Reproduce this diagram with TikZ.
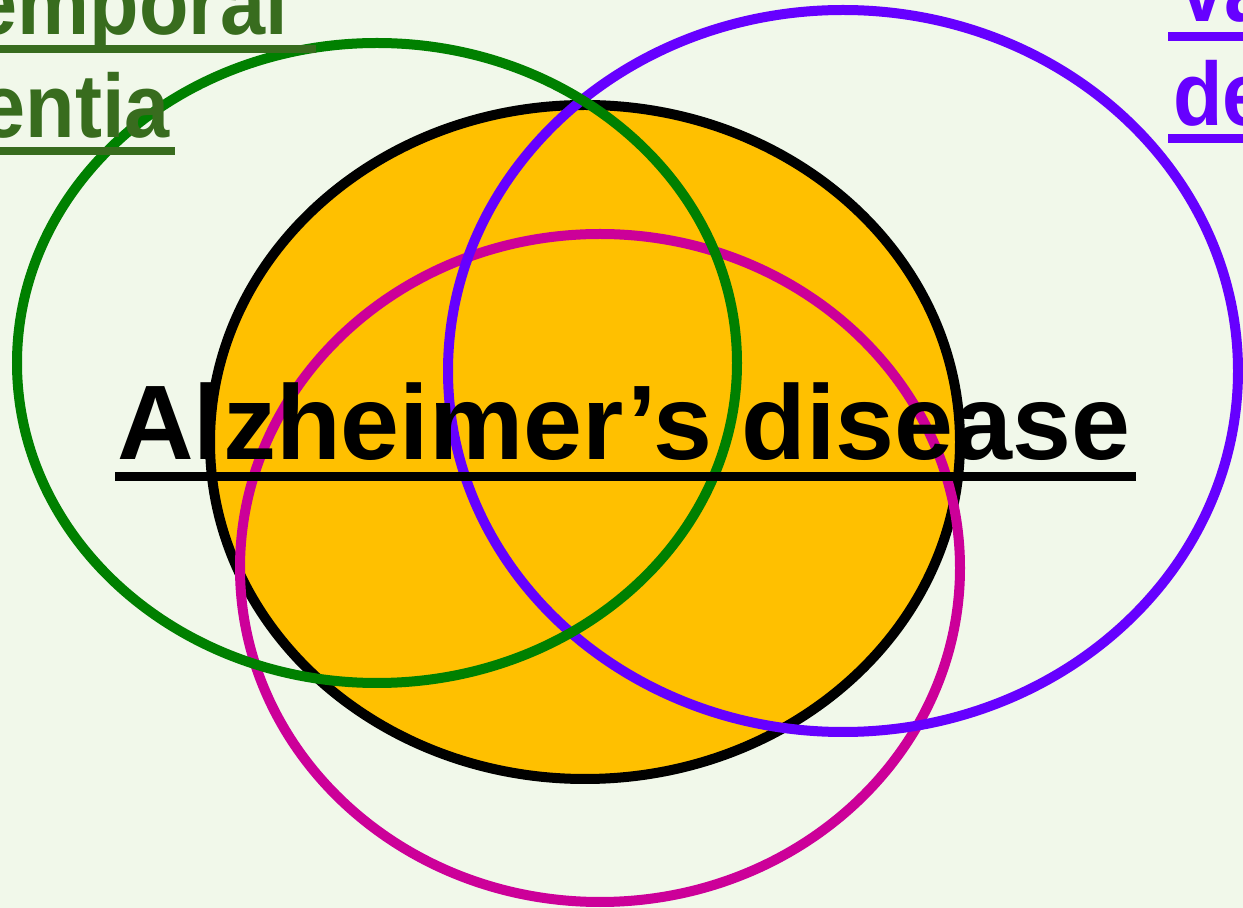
\documentclass[tikz,border=0pt]{standalone}
\usepackage{fontspec}
\setmainfont{Liberation Sans}
\newfontfamily\narrowsans{Liberation Sans}[FakeStretch=0.9]
\usetikzlibrary{calc}
\definecolor{wash}{HTML}{F1F8EA}
\definecolor{amber}{HTML}{FFC000}
\definecolor{leaf}{HTML}{008000}
\definecolor{moss}{HTML}{386C1E}
\definecolor{violet}{HTML}{6600FF}
\definecolor{berry}{HTML}{CC0099}

\begin{document}
\begin{tikzpicture}[x=0.5pt,y=-0.5pt,line width=5pt,
  lbl/.style={inner sep=0pt,font=\narrowsans\bfseries\fontsize{45}{50}\selectfont}]
\fill[wash] (0,0) rectangle (1243,908);
\clip (0,0) rectangle (1243,908);
% the four sets
\draw[fill=amber] (585,442) ellipse [x radius=187.5pt,y radius=168.5pt];
\draw[berry] (600,568) ellipse [x radius=180pt,y radius=167pt];
\draw[violet] (843,371) ellipse [x radius=197.5pt,y radius=180.5pt];
\draw[leaf] (377,363) ellipse [x radius=180pt,y radius=160pt];
% labels
\node[inner sep=0pt,anchor=base west,font=\bfseries\fontsize{53}{60}\selectfont] (ad) at (112,460) {Alzheimer’s disease};
\draw[line width=4.5pt] ($(ad.base west)+(3,17)$) -- ($(ad.base east)+(1,17)$);
\node[lbl,moss,anchor=base east] (ft1) at (293,35) {emporal};
\node[lbl,moss,anchor=base east] (ft2) at (175,138) {entia};
\draw[moss,line width=4pt] ($(ft1.base west)+(0,14)$) -- ($(ft1.base east)+(23,14)$);
\draw[moss,line width=4pt] ($(ft2.base west)+(0,13)$) -- ($(ft2.base east)+(0,13)$);
\node[lbl,violet,anchor=base west] (vd1) at (1170,22) {Va};
\node[lbl,violet,anchor=base west] (vd2) at (1168,126) {de};
\draw[violet,line width=4.5pt] ($(vd1.base west)+(-2,15)$) -- ($(vd1.base east)+(40,15)$);
\draw[violet,line width=4.5pt] ($(vd2.base west)+(0,13)$) -- ($(vd2.base east)+(40,13)$);
\end{tikzpicture}
\end{document}
